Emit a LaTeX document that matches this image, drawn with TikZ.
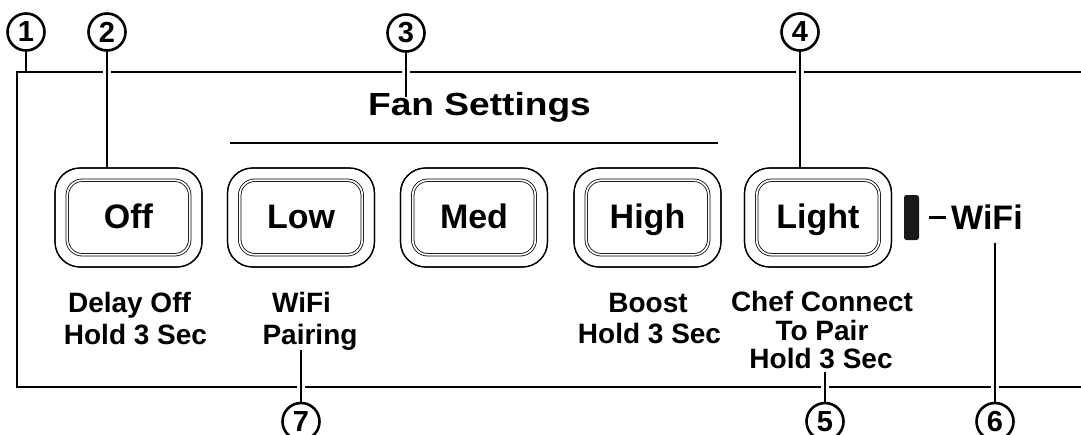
\documentclass[tikz,border=0pt]{standalone}
\usepackage{fontspec}
\setmainfont{Liberation Sans}
\usetikzlibrary{calc}
\begin{document}
\begin{tikzpicture}[x=1pt,y=-1pt,
  frame/.style={line width=2.6pt},
  leaderplain/.style={line width=2.6pt},
  leader/.style={line width=2.6pt, preaction={draw=white,line width=8pt}},
  callout/.style={circle, draw, line width=2.6pt, fill=white, minimum size=37pt, inner sep=0pt, font=\fontsize{29pt}{29pt}\selectfont\bfseries},
  btnouter/.style={draw, line width=1.2pt, rounded corners=25pt, minimum width=147pt, minimum height=99pt, inner sep=0pt},
  btninner/.style={draw, line width=0.8pt, double, double distance=1.7pt, rounded corners=15pt, minimum width=122.5pt, minimum height=74.5pt, inner sep=0pt},
  btntext/.style={anchor=base, inner sep=0pt, font=\fontsize{34pt}{40pt}\selectfont\bfseries},
  lbl/.style={anchor=base, inner sep=0pt, font=\fontsize{28pt}{32pt}\selectfont\bfseries},
]
\useasboundingbox (0,0) rectangle (1081,434);

% frame
\coordinate (ftr) at (1090,72);
\coordinate (ftl) at (17,72);
\coordinate (fbl) at (17,387);
\coordinate (fbr) at (1090,387);
\draw[frame] (ftr) -- (ftl) -- (fbl) -- (fbr);

% callout circle positions
\path (26,32) coordinate (p1) (107,32) coordinate (p2) (406,33) coordinate (p3)
      (800,32) coordinate (p4) (825,421.5) coordinate (p5) (995,421.5) coordinate (p6)
      (301,421.5) coordinate (p7);

% buttons (outer shapes for anchors)
\foreach \n/\x in {off/128.5, low/301, med/474, high/647.5, light/818}{
  \node[btnouter] (\n) at (\x,217.5) {};
}

% leader end coordinates
\coordinate (e1) at (26,72);
\coordinate (e3) at (406,97);
\coordinate (e5) at (825,372);
\coordinate (e6) at (995,243);
\coordinate (e7) at (301,350);

% leaders
\draw[leaderplain] ($(p1)+(0,18.5)$) -- (e1);
\draw[leader] ($(p2)+(0,18.5)$) -- (p2 |- off.north);
\draw[leader] ($(p3)+(0,18.5)$) -- (e3);
\draw[leader] ($(p4)+(0,18.5)$) -- (p4 |- light.north);
\draw[leader] ($(p5)-(0,18.5)$) -- (e5);
\draw[leader] ($(p6)-(0,18.5)$) -- (e6);
\draw[leader] ($(p7)-(0,18.5)$) -- (e7);

% buttons redrawn on top
\foreach \n/\x/\t in {off/128.5/Off, low/301/Low, med/474/Med, high/647.5/High, light/818/Light}{
  \node[btnouter] (\n-o) at (\x,217.5) {};
  \node[btninner] (\n-i) at (\x,217.5) {};
  \node[btntext] (\n-t) at (\x,228) {\t};
}

% Fan settings
\node[anchor=base, inner sep=0pt, font=\fontsize{32pt}{36pt}\selectfont\bfseries] (fan) at (479.5,115) {\scalebox{1.16}[1]{Fan Settings}};
\coordinate (fl) at (230,143);
\coordinate (fr) at (718,143);
\draw[line width=2.8pt] (fl) -- (fr);

% WiFi indicator
\node[fill=black!90, rounded corners=2.5pt, minimum width=15pt, minimum height=45pt, inner sep=0pt] (led) at (911.5,217.5) {};
\node[anchor=base west, inner sep=0pt, font=\fontsize{34pt}{40pt}\selectfont\bfseries] (wifi) at (951,229) {WiFi};
\draw[line width=3pt] ($(led.east)+(10,0)$) -- ($(led.east)+(27,0)$);

% lower labels
\node[lbl] (l1a) at (129.5,312) {Delay Off};
\node[lbl] (l1b) at (135.5,344) {Hold 3 Sec};
\node[lbl] (l2a) at (301.5,312) {WiFi};
\node[lbl] (l2b) at (310,344) {Pairing};
\node[lbl] (l3a) at (648,312) {Boost};
\node[lbl] (l3b) at (649.5,343) {Hold 3 Sec};
\node[lbl] (l4a) at (822,311) {Chef Connect};
\node[lbl] (l4b) at (822,340) {To Pair};
\node[lbl] (l4c) at (821,368) {Hold 3 Sec};

% callouts
\foreach \i in {1,...,7}{
  \node[callout] (c\i) at (p\i) {\i};
}
\end{tikzpicture}
\end{document}
